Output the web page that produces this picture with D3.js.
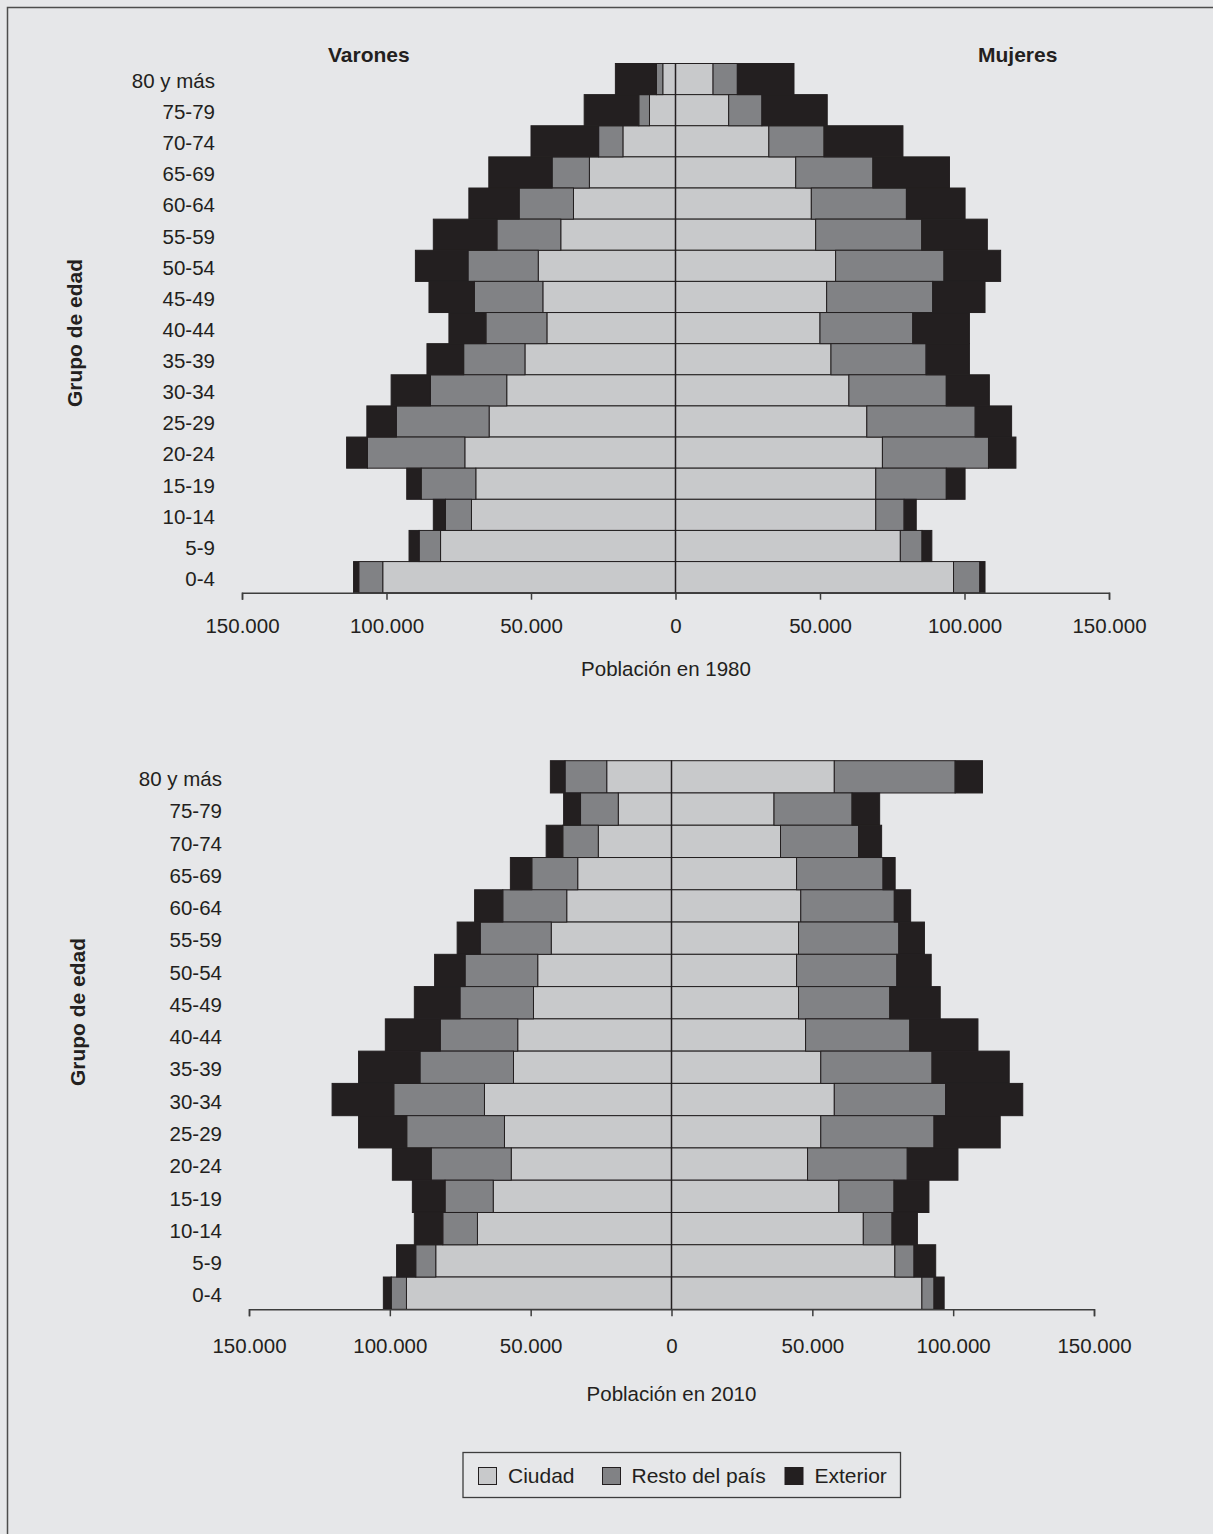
<!DOCTYPE html>
<html>
<head>
  <meta charset="utf-8">
  <title>Pirámides de población 1980 - 2010</title>
  <script src="https://cdn.jsdelivr.net/npm/d3@7/dist/d3.min.js"></script>
  <style>
    html, body { margin: 0; padding: 0; background: #e6e7e9; }
    svg text { font-family: "Liberation Sans", Arial, Helvetica, sans-serif; fill: #231f20; }
  </style>
</head>
<body>
  <svg width="1213" height="1534"></svg>
  <script>
    // grupos de edad, de arriba hacia abajo
    var ageGroups = ["80 y más", "75-79", "70-74", "65-69", "60-64", "55-59", "50-54", "45-49",
      "40-44", "35-39", "30-34", "25-29", "20-24", "15-19", "10-14", "5-9", "0-4"];

    var seriesNames = ["Ciudad", "Resto del país", "Exterior"];
    var seriesColors = ["#c8c9cb", "#818285", "#231f20"];

    var xTicks = [-150000, -100000, -50000, 0, 50000, 100000, 150000];

    // valores en miles de personas
    // 1980 varones
    var m1980Ciudad = [4.4, 9.0, 18.2, 29.8, 35.3, 39.7, 47.5, 45.9, 44.5, 52.1, 58.4, 64.5, 72.9, 69.1, 70.6, 81.3, 101.3];
    var m1980Resto = [2.2, 3.7, 8.4, 12.9, 18.8, 22.1, 24.3, 23.7, 21.1, 21.2, 26.4, 32.1, 33.7, 18.9, 9.0, 7.4, 8.3];
    var m1980Exterior = [14.2, 18.9, 23.4, 21.9, 17.4, 22.0, 18.2, 15.7, 12.8, 12.7, 13.6, 10.2, 7.2, 5.0, 4.2, 3.5, 1.8];
    // 1980 mujeres
    var f1980Ciudad = [13.0, 18.4, 32.3, 41.6, 47.0, 48.5, 55.4, 52.3, 50.0, 53.8, 60.0, 66.2, 71.6, 69.3, 69.3, 77.8, 96.2];
    var f1980Resto = [8.4, 11.5, 19.1, 26.7, 32.9, 36.7, 37.5, 36.7, 32.1, 32.9, 33.7, 37.5, 36.7, 24.4, 9.8, 7.5, 9.1];
    var f1980Exterior = [19.6, 22.6, 27.3, 26.5, 20.3, 22.7, 19.6, 18.1, 19.6, 15.0, 14.9, 12.6, 9.5, 6.5, 4.2, 3.4, 1.8];
    // 2010 varones
    var m2010Ciudad = [23.0, 18.9, 26.0, 33.3, 37.2, 42.7, 47.5, 49.0, 54.6, 56.1, 66.4, 59.3, 56.9, 63.3, 68.9, 83.7, 94.1];
    var m2010Resto = [14.8, 13.4, 12.6, 16.3, 22.7, 25.2, 25.8, 26.1, 27.5, 33.2, 32.2, 34.7, 28.4, 17.1, 12.3, 7.1, 5.4];
    var m2010Exterior = [5.2, 6.0, 5.9, 7.6, 10.0, 8.2, 10.8, 16.2, 19.5, 21.8, 21.9, 17.1, 13.8, 11.6, 10.1, 6.8, 2.8];
    // 2010 mujeres
    var f2010Ciudad = [57.8, 36.4, 38.7, 44.4, 45.9, 45.1, 44.4, 45.1, 47.6, 53.0, 57.8, 53.0, 48.3, 59.4, 68.1, 79.3, 88.9];
    var f2010Resto = [42.9, 27.7, 27.7, 30.7, 33.2, 35.6, 35.6, 32.4, 37.0, 39.5, 39.5, 40.2, 35.4, 19.6, 10.2, 6.8, 4.3];
    var f2010Exterior = [9.7, 9.8, 8.2, 4.3, 5.8, 9.1, 12.2, 17.9, 24.2, 27.4, 27.4, 23.5, 18.0, 12.4, 9.0, 7.7, 3.6];

    var svg = d3.select("svg");

    // marco (solo arriba e izquierda se ven)
    svg.append("path")
      .attr("d", "M7.5,1534 L7.5,7.5 L1213,7.5")
      .attr("fill", "none")
      .attr("stroke", "#4d4d4d")
      .attr("stroke-width", 1.5);

    var es = d3.formatLocale({ decimal: ",", thousands: ".", grouping: [3], currency: ["", "€"] });
    var fmt = es.format(",");

    function buildRows(c, r, e) {
      return ageGroups.map(function (a, i) {
        return { age: a, Ciudad: c[i], "Resto del país": r[i], Exterior: e[i] };
      });
    }

    var stack = d3.stack().keys(seriesNames);

    function drawPyramid(cfg) {
      var x = d3.scaleLinear().domain([-150000, 150000]).range(cfg.xRange);
      var y = d3.scaleBand().domain(ageGroups).range(cfg.yRange).padding(0);
      var g = svg.append("g");

      var sides = [
        { rows: buildRows(cfg.m[0], cfg.m[1], cfg.m[2]), sign: -1 },
        { rows: buildRows(cfg.f[0], cfg.f[1], cfg.f[2]), sign: 1 }
      ];

      sides.forEach(function (side) {
        var layers = stack(side.rows);
        g.append("g")
          .selectAll("g")
          .data(layers)
          .enter()
          .append("g")
          .attr("fill", function (d, i) { return seriesColors[i]; })
          .selectAll("rect")
          .data(function (d) { return d; })
          .enter()
          .append("rect")
          .attr("x", function (d) {
            return Math.min(x(side.sign * d[0] * 1000), x(side.sign * d[1] * 1000));
          })
          .attr("width", function (d) {
            return Math.abs(x(d[1] * 1000) - x(d[0] * 1000));
          })
          .attr("y", function (d) { return y(d.data.age); })
          .attr("height", y.bandwidth())
          .attr("stroke", "#231f20")
          .attr("stroke-width", 1);
      });

      // linea del cero
      g.append("line")
        .attr("x1", x(0)).attr("x2", x(0))
        .attr("y1", cfg.yRange[0]).attr("y2", cfg.yRange[1])
        .attr("stroke", "#231f20")
        .attr("stroke-width", 1.5);

      // eje x
      var axis = d3.axisBottom(x)
        .tickValues(xTicks)
        .tickSize(7)
        .tickPadding(cfg.tickPad)
        .tickFormat(function (d) { return fmt(Math.abs(d)); });

      var ax = g.append("g")
        .attr("transform", "translate(0," + cfg.yRange[1] + ")")
        .call(axis);
      ax.select(".domain").attr("stroke", "#3d3d3d").attr("stroke-width", 1.5);
      ax.selectAll(".tick line").attr("stroke", "#3d3d3d").attr("stroke-width", 1.5);
      ax.selectAll(".tick text")
        .attr("font-size", "20.5px")
        .attr("font-family", "Liberation Sans, Arial, sans-serif")
        .attr("fill", "#231f20");

      // etiquetas de edad
      g.append("g")
        .selectAll("text")
        .data(ageGroups)
        .enter()
        .append("text")
        .attr("x", cfg.labelX)
        .attr("y", function (d) { return y(d) + y.bandwidth() / 2; })
        .attr("dy", cfg.labelDy)
        .attr("text-anchor", "end")
        .attr("font-size", "20.5px")
        .text(function (d) { return d; });

      // titulo del eje vertical
      g.append("text")
        .attr("transform", "translate(" + cfg.groupX + "," + cfg.groupY + ") rotate(-90)")
        .attr("text-anchor", "middle")
        .attr("font-size", "21px")
        .attr("font-weight", "bold")
        .text("Grupo de edad");

      // titulo del eje horizontal
      g.append("text")
        .attr("x", cfg.titleX)
        .attr("y", cfg.titleY)
        .attr("text-anchor", "middle")
        .attr("font-size", "20.5px")
        .text(cfg.title);
    }

    drawPyramid({
      m: [m1980Ciudad, m1980Resto, m1980Exterior],
      f: [f1980Ciudad, f1980Resto, f1980Exterior],
      xRange: [242, 1109],
      yRange: [63.5, 592.7],
      tickPad: 19,
      labelX: 215,
      labelDy: "0.43em",
      groupX: 82,
      groupY: 333,
      titleX: 666,
      titleY: 676,
      title: "Población en 1980"
    });

    drawPyramid({
      m: [m2010Ciudad, m2010Resto, m2010Exterior],
      f: [f2010Ciudad, f2010Resto, f2010Exterior],
      xRange: [249, 1094],
      yRange: [760.7, 1309.3],
      tickPad: 22,
      labelX: 222,
      labelDy: "0.45em",
      groupX: 85,
      groupY: 1012,
      titleX: 671.5,
      titleY: 1400.5,
      title: "Población en 2010"
    });

    // encabezados Varones / Mujeres
    svg.append("text").attr("x", 328).attr("y", 62)
      .attr("font-size", "21px").attr("font-weight", "bold").text("Varones");
    svg.append("text").attr("x", 978).attr("y", 62)
      .attr("font-size", "21px").attr("font-weight", "bold").text("Mujeres");

    // leyenda
    var legend = svg.append("g");
    legend.append("rect")
      .attr("x", 463).attr("y", 1452.5)
      .attr("width", 437.5).attr("height", 45)
      .attr("fill", "none")
      .attr("stroke", "#3d3d3d")
      .attr("stroke-width", 1.3);

    var legendX = [478.5, 602.5, 785];
    var items = legend.selectAll("g.item")
      .data(seriesNames)
      .enter()
      .append("g")
      .attr("class", "item")
      .attr("transform", function (d, i) { return "translate(" + legendX[i] + ",1467.5)"; });
    items.append("rect")
      .attr("width", 18).attr("height", 17)
      .attr("fill", function (d, i) { return seriesColors[i]; })
      .attr("stroke", "#231f20")
      .attr("stroke-width", 1);
    items.append("text")
      .attr("x", function (d, i) { return i === 1 ? 29 : 29.5; })
      .attr("y", 15.8)
      .attr("font-size", "21px")
      .text(function (d) { return d; });
  </script>
</body>
</html>
